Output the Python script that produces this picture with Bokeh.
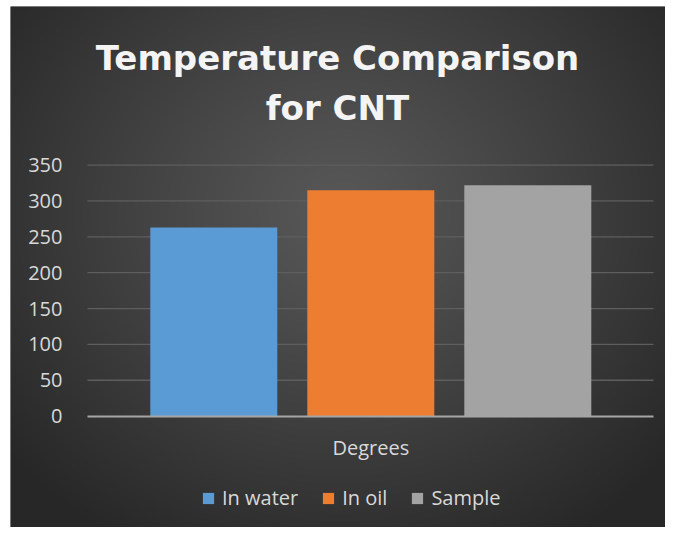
import numpy as np
from bokeh.plotting import figure
from bokeh.models import (Range1d, LinearAxis, FixedTicker, Legend, LegendItem,
                          Label, ColumnDataSource)
from bokeh.embed import file_html
from bokeh.resources import INLINE

# ---------------- data ----------------
title_lines = ["Temperature Comparison", "for CNT"]
category = "Degrees"
series = ["In water", "In oil", "Sample"]
values = [263, 315, 322]
colors = ["#5b9bd5", "#ed7d31", "#a3a3a3"]
y_ticks = [0, 50, 100, 150, 200, 250, 300, 350]

# ---------------- layout ----------------
W, H = 665, 527
BL, BT = 10, 6                 # white border left / top
FW, FH = W - BL, H - BT        # frame size
px_per_x = 157.0
px_per_y = 251.0 / 350.0
x0_px = 203.3   # centre of first bar, px from frame left
y0_px = 409.6   # value 0, px from frame top

x_start = -x0_px / px_per_x
x_end = (FW - x0_px) / px_per_x
y_end = y0_px / px_per_y
y_start = -(FH - y0_px) / px_per_y

grid_x0 = x_start + 77 / px_per_x
grid_x1 = x_start + 643 / px_per_x

FONT = "Open Sans"
TXT = "#d9d9d9"

p = figure(width=W, height=H,
           x_range=Range1d(x_start, x_end), y_range=Range1d(y_start, y_end),
           x_axis_type=None, y_axis_type=None,
           output_backend="svg", toolbar_location=None,
           min_border=0, min_border_left=BL, min_border_top=BT,
           outline_line_color=None,
           border_fill_color="#ffffff", background_fill_color="#2c2c2c")

# radial gradient background (pixel grid of the frame)
yy, xx = np.mgrid[0:FH, 0:FW].astype(float)
cx, cy, rx, ry = 330.0, 205.0, 430.0, 390.0
t = np.sqrt(((xx - cx) / rx) ** 2 + ((yy - cy) / ry) ** 2)
t = np.clip(t, 0, 1) ** 1.1
g = (0x58 - (0x58 - 0x27) * t).astype(np.uint32)
img = (np.uint32(255) << 24) | (g << 16) | (g << 8) | g
img = np.flipud(img).astype(np.uint32)
p.image_rgba(image=[img], x=x_start, y=y_start,
             dw=x_end - x_start, dh=y_end - y_start)

# gridlines (zero line is the x axis)
gl = [v for v in y_ticks if v != 0]
p.segment(x0=[grid_x0] * len(gl), y0=gl, x1=[grid_x1] * len(gl), y1=gl,
          line_color="#5e5e5e", line_width=1.3)

# bars
src = ColumnDataSource(dict(x=list(range(len(series))), top=values,
                            color=colors, name=series))
bars = p.vbar(x="x", top="top", width=127 / 157, source=src,
              fill_color="color", line_color=None)

# y axis
yaxis = LinearAxis(fixed_location=grid_x0, ticker=FixedTicker(ticks=y_ticks),
                   axis_line_color=None, major_tick_line_color=None,
                   minor_tick_line_color=None, major_label_standoff=19,
                   major_label_text_color=TXT, major_label_text_font=FONT,
                   major_label_text_font_size="20px", bounds=(0, 350))
p.add_layout(yaxis, "left")

# x axis
xaxis = LinearAxis(fixed_location=0, ticker=FixedTicker(ticks=[1]),
                   major_label_overrides={1: category},
                   axis_line_color="#a6a6a6", axis_line_width=2,
                   major_tick_line_color=None, minor_tick_line_color=None,
                   major_label_standoff=12, major_label_text_color=TXT,
                   major_label_text_font=FONT, major_label_text_font_size="20px",
                   bounds=(grid_x0, grid_x1))
p.add_layout(xaxis, "below")

# title (screen coords relative to the frame: y from frame bottom)
for txt, yb in zip(title_lines, [FH - (57 - BT), FH - (107 - BT)]):
    p.add_layout(Label(x=337 - BL, y=yb, x_units="screen", y_units="screen",
                       text=txt, text_align="center", text_baseline="alphabetic",
                       text_font="DejaVu Sans", text_font_style="bold",
                       text_font_size="34px", text_color="#f4f4f4"))

# legend
items = [LegendItem(label=s, renderers=[bars], index=i) for i, s in enumerate(series)]
legend = Legend(items=items, orientation="horizontal", location=(191, 16),
                background_fill_alpha=0, border_line_color=None,
                label_text_color=TXT, label_text_font=FONT,
                label_text_font_size="20px", glyph_width=14, glyph_height=14,
                label_standoff=7, spacing=23, padding=0, margin=0)
p.add_layout(legend, "center")

open("out.html", "w").write(file_html(p, INLINE))
